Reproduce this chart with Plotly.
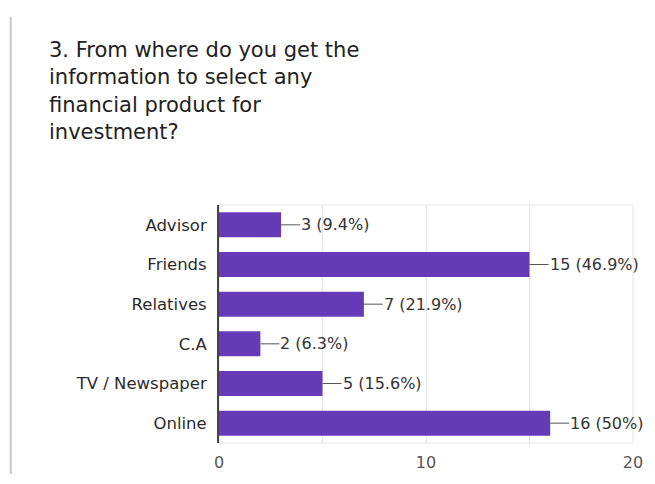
import plotly.graph_objects as go

# Survey responses: where respondents get investment product information
categories = ["Advisor", "Friends", "Relatives", "C.A", "TV / Newspaper", "Online"]
counts = [3, 15, 7, 2, 5, 16]
percents = ["9.4%", "46.9%", "21.9%", "6.3%", "15.6%", "50%"]

title_lines = [
    "3. From where do you get the",
    "information to select any",
    "financial product for",
    "investment?",
]

x_ticks = [0, 10, 20]

BAR_COLOR = "#673ab7"
FONT = "DejaVu Sans"

fig = go.Figure(
    go.Bar(
        x=counts,
        y=categories,
        orientation="h",
        marker=dict(color=BAR_COLOR, line=dict(width=0)),
        width=0.63,
        hoverinfo="skip",
    )
)

# Leader lines and value labels next to each bar
shapes = []
annotations = []
for cat, c, p in zip(categories, counts, percents):
    shapes.append(dict(
        type="line", xref="x", yref="y", xsizemode="pixel", xanchor=c,
        x0=0, x1=19, y0=cat, y1=cat,
        line=dict(color="#555555", width=1),
    ))
    annotations.append(dict(
        x=c, y=cat, xref="x", yref="y", xanchor="left", yanchor="middle",
        xshift=18, showarrow=False, text=f"{c} ({p})",
        font=dict(family=FONT, size=16, color="#333333"),
    ))

# Light frame around the plotting area
shapes.append(dict(
    type="rect", xref="paper", yref="paper", x0=0, x1=1, y0=0, y1=1,
    line=dict(color="#e4e4e4", width=1), layer="below",
))
# Thin page edge at the far left
shapes.append(dict(
    type="line", xref="paper", yref="paper",
    x0=-0.503, x1=-0.503, y0=1.79, y1=-0.13,
    line=dict(color="#c8c8c8", width=2),
))

# Multi-line question heading
title_centers = [43, 72, 101, 129]
plot_top, plot_h = 205, 248
for line, cy in zip(title_lines, title_centers):
    annotations.append(dict(
        x=(47 - 219) / 415, y=(plot_top + plot_h - cy) / plot_h,
        xref="paper", yref="paper", xanchor="left", yanchor="middle",
        showarrow=False, text=line,
        font=dict(family=FONT, size=21, color="#222222"),
    ))

fig.update_layout(
    width=655, height=484,
    margin=dict(l=219, r=21, t=205, b=31),
    paper_bgcolor="white", plot_bgcolor="white",
    showlegend=False,
    bargap=0.37,
    shapes=shapes,
    annotations=annotations,
    xaxis=dict(
        range=[0, 20], tickvals=x_ticks, ticktext=[str(t) for t in x_ticks],
        showgrid=True, gridcolor="#e4e4e4", gridwidth=1,
        minor=dict(dtick=5, tick0=0, showgrid=True, gridcolor="#e4e4e4"),
        zeroline=False, showline=False, ticks="",
        tickfont=dict(family=FONT, size=16, color="#555555"),
        ticklabelstandoff=8,
        fixedrange=True,
    ),
    yaxis=dict(
        categoryorder="array", categoryarray=categories, autorange="reversed",
        showgrid=False, zeroline=False,
        showline=True, linecolor="#444444", linewidth=2,
        ticks="", ticklabelstandoff=7,
        tickfont=dict(family=FONT, size=16.5, color="#2b2b2b"),
        fixedrange=True,
    ),
)

fig.write_html("out.html")
